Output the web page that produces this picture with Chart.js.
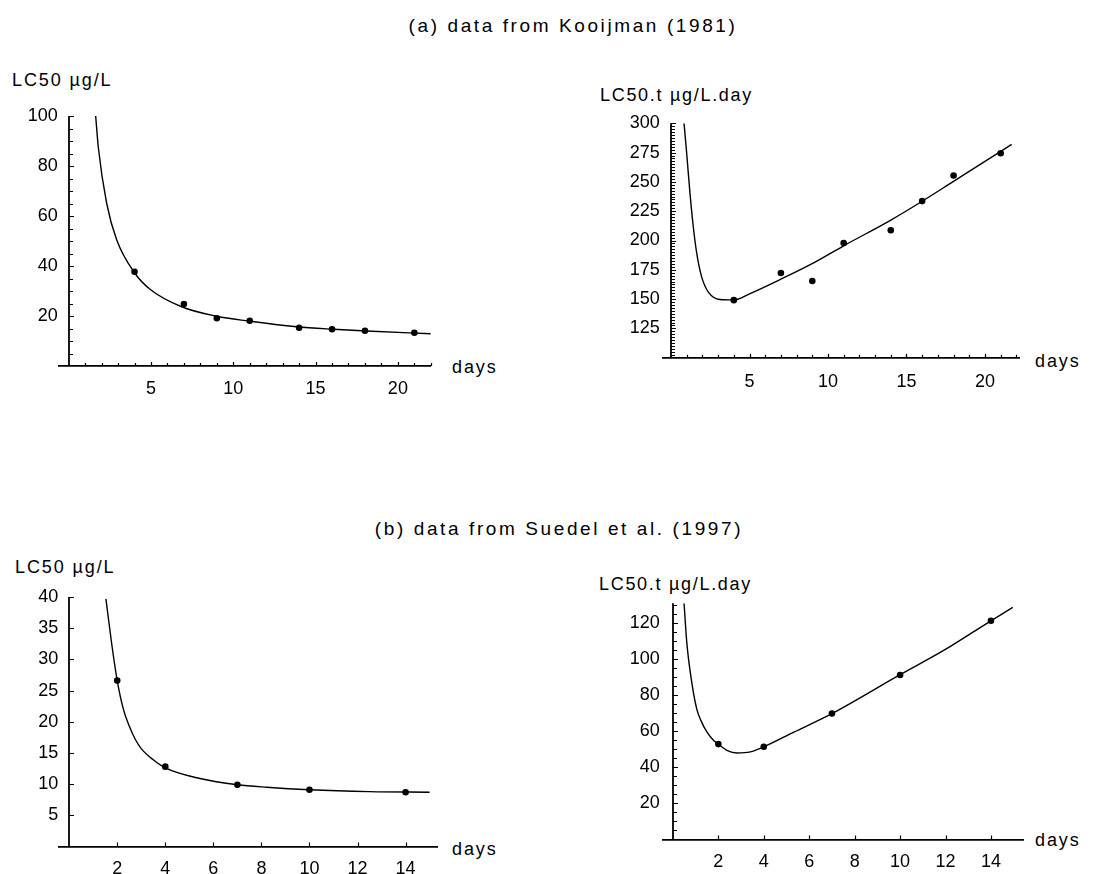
<!DOCTYPE html>
<html>
<head>
<meta charset="utf-8">
<script src="https://cdn.jsdelivr.net/npm/chart.js@4.4.0/dist/chart.umd.min.js"></script>
<style>
html, body { margin: 0; padding: 0; background: #fff; }
body { width: 1118px; height: 874px; position: relative; overflow: hidden;
       font-family: "Liberation Sans", Arial, sans-serif; color: #000; }
canvas { position: absolute; }
.ttl { position: absolute; white-space: nowrap; line-height: 1; font-size: 19px;
       letter-spacing: 2.6px; transform: translate(-50%, -50%); }
.lbl { position: absolute; white-space: nowrap; line-height: 1; font-size: 18px;
       letter-spacing: 1.9px; transform: translateY(-50%); }
</style>
</head>
<body>
<div class="ttl" style="left:573px; top:25px">(a) data from Kooijman (1981)</div>
<div class="ttl" style="left:559px; top:528px">(b) data from Suedel et al. (1997)</div>

<div class="lbl" style="left:12px; top:80px">LC50 µg/L</div>
<div class="lbl" style="left:600px; top:95px; letter-spacing:1.7px">LC50.t µg/L.day</div>
<div class="lbl" style="left:15px; top:567px">LC50 µg/L</div>
<div class="lbl" style="left:599px; top:584px; letter-spacing:1.7px">LC50.t µg/L.day</div>

<div class="lbl" style="left:452px; top:367px">days</div>
<div class="lbl" style="left:1035px; top:361px">days</div>
<div class="lbl" style="left:452px; top:849px">days</div>
<div class="lbl" style="left:1035px; top:840px">days</div>

<canvas id="c1" width="560" height="300" style="left:0px; top:100px"></canvas>
<canvas id="c2" width="558" height="300" style="left:560px; top:100px"></canvas>
<canvas id="c3" width="560" height="314" style="left:0px; top:560px"></canvas>
<canvas id="c4" width="558" height="314" style="left:560px; top:560px"></canvas>

<script>
// tick labels
const xTicksA = [5, 10, 15, 20];
const yTicksA1 = [20, 40, 60, 80, 100];
const yTicksA2 = [125, 150, 175, 200, 225, 250, 275, 300];
const xTicksB = [2, 4, 6, 8, 10, 12, 14];
const yTicksB1 = [5, 10, 15, 20, 25, 30, 35, 40];
const yTicksB2 = [20, 40, 60, 80, 100, 120];

// (a) Kooijman (1981) observations
const daysA = [4, 7, 9, 11, 14, 16, 18, 21];
const lc50A = [37.7, 24.8, 19.1, 18.1, 15.3, 14.7, 14.1, 13.3];
const lc50tA = [149.1, 172.3, 165.5, 197.9, 208.7, 233.6, 255.5, 274.5];

// (a) fitted curves
const fitDaysA1 = [1.64, 1.8, 2.31, 2.92, 4.0, 4.94, 6.86, 8.99, 10.91, 13.85, 16.08, 18.1, 22];
const fitLc50A = [100, 87.5, 65, 50.4, 37.3, 30.7, 23.7, 19.9, 18.0, 15.7, 14.7, 14.0, 12.9];
const fitDaysA2 = [0.83, 1.0, 1.21, 1.42, 1.64, 1.95, 2.38, 3.12, 4, 5, 7, 8.96, 11, 13.95, 16, 18, 20, 21.7];
const fitLc50tA = [300, 274, 240, 211.5, 189, 169, 156, 149.7, 149.3, 154.5, 167, 180, 195.5, 217, 233.5, 250.5, 267.5, 282];

// (b) Suedel et al. (1997) observations
const daysB = [2, 4, 7, 10, 14];
const lc50B = [26.6, 12.8, 9.9, 9.1, 8.7];
const lc50tB = [52.9, 51.4, 69.9, 91.2, 121.3];

// (b) fitted curves
const fitDaysB1 = [1.53, 1.77, 2.0, 2.25, 2.5, 2.75, 3.0, 3.5, 4.0, 5.44, 7.0, 8.22, 10, 12.5, 15];
const fitLc50B = [39.7, 32.5, 26.6, 22.1, 19.3, 17.2, 15.7, 13.9, 12.6, 10.9, 9.9, 9.5, 9.1, 8.8, 8.7];
const fitDaysB2 = [0.49, 0.61, 0.83, 1.05, 1.25, 1.5, 1.75, 2, 2.4, 2.81, 3.41, 4, 5.3, 7, 10, 11.9, 14, 14.96];
const fitLc50tB = [131, 109.3, 87.1, 72.3, 65.5, 59.5, 55.5, 52.9, 49.3, 48.0, 48.6, 51.4, 59.4, 69.8, 91.4, 104.7, 121.3, 128.7];

const FONT = 'Liberation Sans';

// y axis line at day 0 plus the small ticks drawn inside both axes
const insideTicks = {
    id: 'insideTicks',
    afterDraw(chart, args, opts) {
        const ctx = chart.ctx;
        const xs = chart.scales.x, ys = chart.scales.y;
        const area = chart.chartArea;
        const x0 = Math.round(xs.getPixelForValue(0));
        const yb = area.bottom;
        const xMajor = xs.ticks.map(t => t.value);
        const yMajor = ys.ticks.map(t => t.value);
        ctx.save();
        ctx.strokeStyle = '#000';
        ctx.lineWidth = 1.8;
        ctx.beginPath();
        ctx.moveTo(x0, area.top);
        ctx.lineTo(x0, yb);
        ctx.stroke();

        ctx.lineWidth = 1.2;
        ctx.beginPath();
        const xStep = opts.xStep;
        for (let i = 1; i * xStep <= xs.max + 1e-9; i++) {
            const v = Math.round(i * xStep * 1000) / 1000;
            const len = xMajor.includes(v) ? 4 : 3;
            const px = Math.round(xs.getPixelForValue(v)) + 0.5;
            ctx.moveTo(px, yb);
            ctx.lineTo(px, yb - len);
        }
        const yStep = opts.yStep;
        for (let i = Math.floor(ys.min / yStep) + 1; i * yStep <= ys.max + 1e-9; i++) {
            const v = Math.round(i * yStep * 1000) / 1000;
            const len = yMajor.includes(v) ? 4 : 3;
            const py = Math.round(ys.getPixelForValue(v)) + 0.5;
            ctx.moveTo(x0, py);
            ctx.lineTo(x0 + len + 1, py);
        }
        ctx.stroke();
        ctx.restore();
    }
};

function toPoints(xs, ys) {
    return xs.map((x, i) => ({x: x, y: ys[i]}));
}

function makePanel(p) {
    return new Chart(document.getElementById(p.id), {
        type: 'scatter',
        data: {
            datasets: [{
                data: toPoints(p.fit[0], p.fit[1]),
                showLine: true,
                borderColor: '#000',
                borderWidth: 1.4,
                pointRadius: 0,
                cubicInterpolationMode: 'monotone',
                clip: 0
            }, {
                data: toPoints(p.obs[0], p.obs[1]),
                showLine: false,
                pointRadius: 3.3,
                pointBackgroundColor: '#000',
                pointBorderWidth: 0,
                clip: false
            }]
        },
        options: {
            responsive: false,
            animation: false,
            devicePixelRatio: 1,
            layout: { padding: { left: 0, top: p.pad[1], right: p.pad[2], bottom: 0 } },
            plugins: {
                legend: { display: false },
                tooltip: { enabled: false },
                insideTicks: { xStep: p.xStep, yStep: p.yStep }
            },
            scales: {
                x: {
                    type: 'linear',
                    position: 'bottom',
                    min: p.xRange[0],
                    max: p.xRange[1],
                    afterBuildTicks: s => { s.ticks = p.xTicks.map(v => ({value: v})); },
                    afterFit: s => { s.height = p.xh; },
                    grid: { display: false, drawTicks: false },
                    border: { display: true, color: '#000', width: 1.8 },
                    ticks: { color: '#000', font: { family: FONT, size: 18 }, padding: p.xPad,
                             maxRotation: 0, autoSkip: false }
                },
                y: {
                    type: 'linear',
                    position: 'left',
                    min: p.yRange[0],
                    max: p.yRange[1],
                    afterBuildTicks: s => { s.ticks = p.yTicks.map(v => ({value: v})); },
                    afterFit: s => { s.width = p.pad[0]; },
                    grid: { display: false, drawTicks: false },
                    border: { display: false },
                    ticks: { color: '#000', font: { family: FONT, size: 18 }, padding: p.yPad,
                             autoSkip: false }
                }
            }
        },
        plugins: [insideTicks]
    });
}

makePanel({ id: 'c1', pad: [58.8, 16, 129.2], xh: 34, xPad: 12, yPad: 1,
    xRange: [-0.6, 22], yRange: [0, 100], xTicks: xTicksA, yTicks: yTicksA1, xStep: 1, yStep: 5,
    fit: [fitDaysA1, fitLc50A], obs: [daysA, lc50A] });

makePanel({ id: 'c2', pad: [102.7, 23.3, 98.5], xh: 42.3, xPad: 14, yPad: 3,
    xRange: [-0.53, 22.2], yRange: [100, 300], xTicks: xTicksA, yTicks: yTicksA2, xStep: 1, yStep: 2.5,
    fit: [fitDaysA2, fitLc50tA], obs: [daysA, lc50tA] });

makePanel({ id: 'c3', pad: [59.3, 37, 122.7], xh: 27.5, xPad: 12, yPad: 1,
    xRange: [-0.41, 15.32], yRange: [0, 40], xTicks: xTicksB, yTicks: yTicksB1, xStep: 2, yStep: 5,
    fit: [fitDaysB1, fitLc50B], obs: [daysB, lc50B] });

makePanel({ id: 'c4', pad: [102.7, 43.3, 94.8], xh: 34.5, xPad: 12, yPad: 3,
    xRange: [-0.45, 15.42], yRange: [0, 131], xTicks: xTicksB, yTicks: yTicksB2, xStep: 2, yStep: 5,
    fit: [fitDaysB2, fitLc50tB], obs: [daysB, lc50tB] });
</script>
</body>
</html>
